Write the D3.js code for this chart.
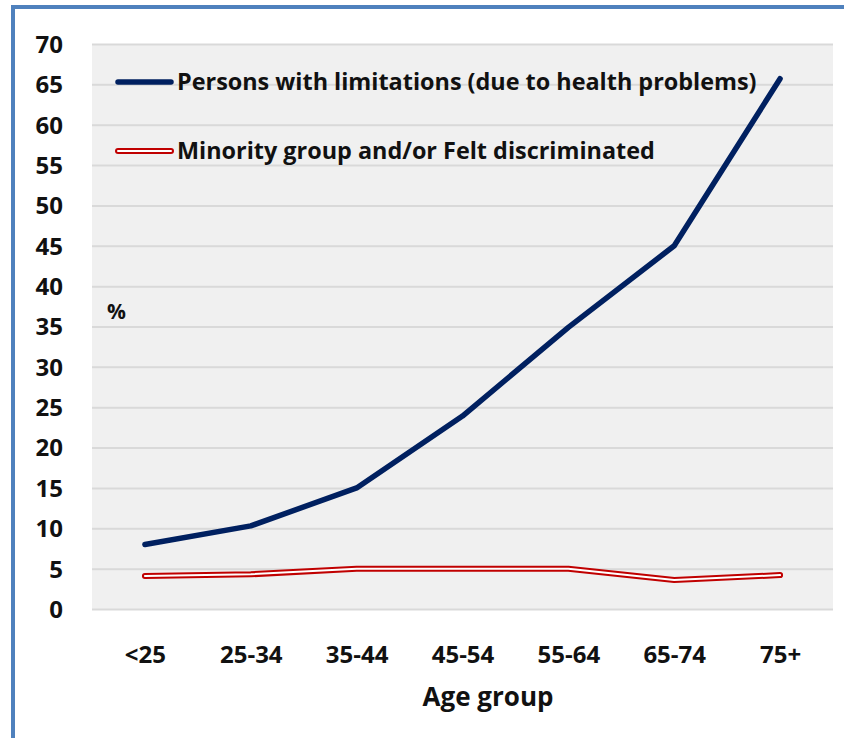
<!DOCTYPE html>
<html>
<head>
<meta charset="utf-8">
<script src="https://cdn.jsdelivr.net/npm/d3@7"></script>
<style>
  html, body { margin: 0; padding: 0; background: #fff; }
  svg text { font-family: "Open Sans", Lato, sans-serif; font-weight: 700; fill: #111; }
</style>
</head>
<body>
<svg id="chart" width="844" height="738"></svg>
<script>
// Age groups on the x axis
const ageGroups = ["<25", "25-34", "35-44", "45-54", "55-64", "65-74", "75+"];
// Share (%) of persons with limitations due to health problems
const limitations = [8.0, 10.3, 15.0, 23.9, 34.9, 45.0, 65.7];
// Share (%) of persons in a minority group and/or who felt discriminated
const minority = [4.1, 4.3, 5.0, 5.0, 5.0, 3.6, 4.2];
// Y axis ticks
const yTicks = [0, 5, 10, 15, 20, 25, 30, 35, 40, 45, 50, 55, 60, 65, 70];
const seriesNames = ["Persons with limitations (due to health problems)", "Minority group and/or Felt discriminated"];

const svg = d3.select("#chart");
const plot = { left: 92, right: 833, top: 44, bottom: 609 };

// Outer frame
svg.append("rect")
  .attr("x", 13).attr("y", 7)
  .attr("width", 844).attr("height", 760)
  .attr("fill", "#fff").attr("stroke", "#4F81BD").attr("stroke-width", 4);

const x = d3.scalePoint().domain(ageGroups).range([plot.left, plot.right]).padding(0.5);
const y = d3.scaleLinear().domain([0, 70]).range([plot.bottom, plot.top]);

// Plot background
svg.append("rect")
  .attr("x", plot.left).attr("y", plot.top)
  .attr("width", plot.right - plot.left).attr("height", plot.bottom - plot.top)
  .attr("fill", "#f0f0f0");

// Horizontal gridlines and tick labels
const yAxis = d3.axisLeft(y).tickValues(yTicks).tickSize(-(plot.right - plot.left)).tickPadding(29);
const gy = svg.append("g").attr("transform", `translate(${plot.left},0)`).call(yAxis);
gy.select(".domain").remove();
gy.selectAll(".tick line").attr("stroke", "#d9d9d9").attr("stroke-width", 2);
gy.selectAll(".tick text").attr("font-size", 24).attr("dy", "0.35em");

// Category labels
const xAxis = d3.axisBottom(x).tickSize(0).tickPadding(37);
const gx = svg.append("g").attr("transform", `translate(0,${plot.bottom})`).call(xAxis);
gx.select(".domain").remove();
gx.selectAll(".tick text").attr("font-size", 24);

// Axis titles
svg.append("text").attr("x", 488).attr("y", 706)
  .attr("text-anchor", "middle").attr("font-size", 26).text("Age group");
svg.append("text").attr("x", 107).attr("y", 319).attr("font-size", 21).text("%");

const line = d3.line()
  .x((d, i) => x(ageGroups[i]))
  .y(d => y(d));

// Minority series: red outline with white core
svg.append("path").attr("d", line(minority)).attr("fill", "none")
  .attr("stroke", "#c00000").attr("stroke-width", 6).attr("stroke-linecap", "round").attr("stroke-linejoin", "round");
svg.append("path").attr("d", line(minority)).attr("fill", "none")
  .attr("stroke", "#fff").attr("stroke-width", 2).attr("stroke-linecap", "round").attr("stroke-linejoin", "round");

// Limitations series
svg.append("path").attr("d", line(limitations)).attr("fill", "none")
  .attr("stroke", "#002060").attr("stroke-width", 5.5).attr("stroke-linecap", "round").attr("stroke-linejoin", "round");

// Legend
const legend = svg.append("g");
legend.append("line").attr("x1", 118).attr("x2", 171).attr("y1", 82).attr("y2", 82)
  .attr("stroke", "#002060").attr("stroke-width", 5.5).attr("stroke-linecap", "round");
legend.append("text").attr("x", 177).attr("y", 90).attr("font-size", 23.4).text(seriesNames[0]);
legend.append("line").attr("x1", 118).attr("x2", 171).attr("y1", 151).attr("y2", 151)
  .attr("stroke", "#c00000").attr("stroke-width", 6).attr("stroke-linecap", "round");
legend.append("line").attr("x1", 118).attr("x2", 171).attr("y1", 151).attr("y2", 151)
  .attr("stroke", "#fff").attr("stroke-width", 2).attr("stroke-linecap", "round");
legend.append("text").attr("x", 177).attr("y", 159).attr("font-size", 23.4).text(seriesNames[1]);
</script>
</body>
</html>
